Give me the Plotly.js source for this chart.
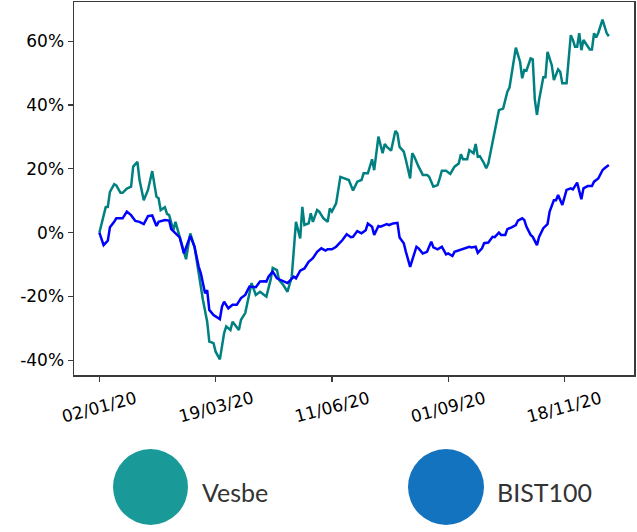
<!DOCTYPE html>
<html>
<head>
<meta charset="utf-8">
<script src="https://cdn.plot.ly/plotly-3.0.1.min.js"></script>
<style>
  html, body { margin: 0; padding: 0; background: #ffffff; }
  #chart { width: 637px; height: 532px; }
</style>
</head>
<body>
<div id="chart"></div>
<script>
// ---- Data (trading-day index from 02/01/20, cumulative return in %) ----
const seriesNames = ['Vesbe', 'BIST100'];

const tickDays = [0, 55, 110, 165, 220];
const tickLabels = ['02/01/20', '19/03/20', '11/06/20', '01/09/20', '18/11/20'];
const yTickVals = [-40, -20, 0, 20, 40, 60];

const vesbeDays = [0,1,3,4,5,7,8,10,11,13,15,16,18,19,21,23,25,27,28,29,31,32,33,35,36,38,41,43,45,47,49,51,52,54,55,57,59,60,62,63,66,67,69,71,72,74,76,78,79,81,82,84,85,87,89,91,93,94,95,96,97,99,100,101,103,104,106,108,109,110,112,114,116,118,120,122,124,125,127,129,130,132,134,135,136,138,140,141,142,144,145,147,148,149,151,153,155,156,158,160,161,162,164,166,168,170,171,172,174,175,177,178,179,180,182,183,184,186,187,189,191,193,194,196,197,199,200,201,202,204,205,206,207,208,210,211,212,214,215,217,218,219,221,223,224,225,226,227,228,229,230,232,233,234,235,236,238,239,240,241];
const vesbeVals = [0,2.7,8.0,8.1,12.8,15.2,14.8,12.5,12.5,13.8,14.4,20.7,22.2,16.5,10.2,13.4,19.3,11.3,10.8,7.1,8.0,5.9,5.5,0.8,3.4,-1.3,-8.3,-0.2,-4.4,-12.7,-21.1,-27.9,-34.1,-34.6,-37.3,-39.7,-31.5,-29.4,-30.5,-27.9,-30.5,-27.3,-25.2,-19.0,-15.8,-19.5,-18.5,-19.5,-20.0,-14.8,-11.0,-11.7,-14.8,-16.4,-18.5,-13.8,3.4,0.8,-1.8,8.1,2.4,2.9,6.1,3.4,7.1,6.6,4.5,3.4,7.6,6.6,9.2,17.5,17.0,16.5,13.2,16.0,16.5,18.6,18.6,23.0,19.6,30.1,24.9,27.8,26.9,25.7,31.9,31.1,26.9,25.4,22.8,17.0,24.9,23.8,20.7,18.1,18.1,17.5,14.4,14.9,17.0,19.4,19.4,18.4,20.7,21.7,24.6,23.0,23.0,25.9,24.9,27.8,23.8,24.0,21.7,20.2,21.7,28.0,31.6,38.4,38.9,44.2,45.5,53.0,58.0,53.6,48.4,51.0,50.8,54.6,54.3,41.6,36.9,41.6,48.7,48.7,56.7,52.5,47.8,51.2,50.4,46.8,46.8,61.9,60.4,58.3,58.3,62.5,57.2,60.4,59.5,57.4,57.4,62.5,61.2,62.6,66.8,64.5,62.5,61.6];

const bistDays = [0,2,4,5,7,8,11,13,15,17,19,21,23,25,27,28,31,33,34,36,38,40,43,45,47,48,50,51,52,54,57,58,59,61,63,65,67,69,71,74,76,78,79,80,82,84,86,89,92,93,95,97,99,101,103,105,107,108,110,112,115,117,119,120,122,124,126,127,129,130,132,133,136,137,139,141,142,144,145,147,148,150,151,153,155,157,158,160,162,164,165,167,168,170,171,173,175,176,178,179,181,182,184,186,187,189,190,192,193,195,197,198,200,201,202,204,205,207,208,210,212,213,215,216,217,219,220,221,223,224,226,227,228,229,231,233,234,236,238,239,240,241];
const bistVals = [0,-3.9,-2.5,1.7,3.4,4.5,4.5,6.6,5.5,3.7,3.4,2.7,5.2,5.4,2.1,3.4,4.0,3.8,1.1,-0.2,-1.5,-6.5,-1.0,-4.4,-10.7,-12.7,-19.0,-18.0,-24.2,-25.8,-27.1,-23.2,-21.6,-23.7,-22.6,-22.6,-20.5,-19.5,-16.9,-17.1,-15.3,-15.2,-15.3,-13.8,-12.2,-14.3,-14.8,-15.8,-13.8,-14.3,-11.9,-11.2,-9.1,-8.0,-6.0,-4.9,-5.6,-5.2,-5.2,-4.4,-2.3,-0.5,-1.4,-1.3,0.5,-0.2,0.8,2.9,1.9,-0.7,2.1,1.9,2.7,2.4,2.9,3.1,-1.5,-3.3,-6.0,-10.7,-8.6,-4.4,-4.9,-6.5,-6.0,-2.8,-4.6,-5.2,-4.4,-6.8,-6.5,-7.3,-6.0,-5.6,-5.2,-4.9,-4.4,-4.6,-4.4,-6.3,-4.9,-3.3,-3.1,-1.3,-1.4,0.0,-0.7,-0.7,1.1,1.7,2.4,3.8,4.5,4.0,1.9,-0.7,-1.3,-3.9,-1.3,1.4,2.7,6.6,10.2,10.2,11.8,8.7,11.3,13.4,13.9,13.6,15.7,13.4,10.5,13.9,14.6,14.6,16.0,17.0,19.6,20.2,20.7,21.2];

// ---- Styles ----
const lineColors = ['#008080', '#0000ff'];
const legendColors = ['#199a98', '#1473be'];
const axisColor = '#3a3a3a';
const tickFont = { family: 'DejaVu Sans', size: 17, color: '#000000' };

const traces = [
  { x: vesbeDays, y: vesbeVals, name: seriesNames[0], type: 'scatter', mode: 'lines',
    line: { color: lineColors[0], width: 2.5 }, showlegend: false },
  { x: bistDays, y: bistVals, name: seriesNames[1], type: 'scatter', mode: 'lines',
    line: { color: lineColors[1], width: 2.5 }, showlegend: false }
];

// Plot area in pixels: left 74, right 634, top 2, bottom 375
const plotTop = 2, plotBottom = 375, plotLeft = 74, plotRight = 634;
const pw = plotRight - plotLeft, ph = plotBottom - plotTop;
const px2x = p => (p - plotLeft) / pw;
const py2y = p => (plotBottom - p) / ph;

const annotations = tickLabels.map((t, i) => ({
  x: tickDays[i], xref: 'x', y: py2y(407), yref: 'paper',
  text: t, showarrow: false, textangle: -15,
  xanchor: 'center', yanchor: 'middle', font: tickFont
}));

const legendCircleX = [[113, 188], [408, 484]];
const legendTextX = [200, 495];
const shapes = [];
seriesNames.forEach((n, i) => {
  shapes.push({
    type: 'circle', xref: 'paper', yref: 'paper',
    x0: px2x(legendCircleX[i][0]), x1: px2x(legendCircleX[i][1]),
    y0: py2y(525), y1: py2y(449),
    fillcolor: legendColors[i], line: { width: 0 }
  });
  annotations.push({
    x: px2x(legendTextX[i]), xref: 'paper', y: py2y(492), yref: 'paper',
    text: n, showarrow: false, xanchor: 'left', yanchor: 'middle',
    font: { family: 'Lato, Carlito, sans-serif', size: 25, color: '#333333' }
  });
});

const layout = {
  width: 637, height: 532,
  margin: { l: plotLeft, r: 637 - plotRight, t: plotTop, b: 532 - plotBottom, pad: 0 },
  paper_bgcolor: '#ffffff', plot_bgcolor: '#ffffff',
  showlegend: false,
  xaxis: {
    range: [-12, 252.9], showgrid: false, zeroline: false,
    showline: true, mirror: true, linecolor: axisColor, linewidth: 1.5,
    ticks: 'outside', ticklen: 5, tickwidth: 1.2, tickcolor: axisColor,
    tickmode: 'array', tickvals: tickDays, ticktext: tickLabels,
    showticklabels: false
  },
  yaxis: {
    range: [-44.6, 72.3], showgrid: false, zeroline: false,
    showline: true, mirror: true, linecolor: axisColor, linewidth: 1.5,
    ticks: 'outside', ticklen: 5, tickwidth: 1.2, tickcolor: axisColor,
    tickmode: 'array', tickvals: yTickVals,
    ticktext: yTickVals.map(v => v + '%'),
    tickfont: tickFont
  },
  shapes: shapes,
  annotations: annotations
};

Plotly.newPlot('chart', traces, layout, { displayModeBar: false, staticPlot: true });
</script>
</body>
</html>
